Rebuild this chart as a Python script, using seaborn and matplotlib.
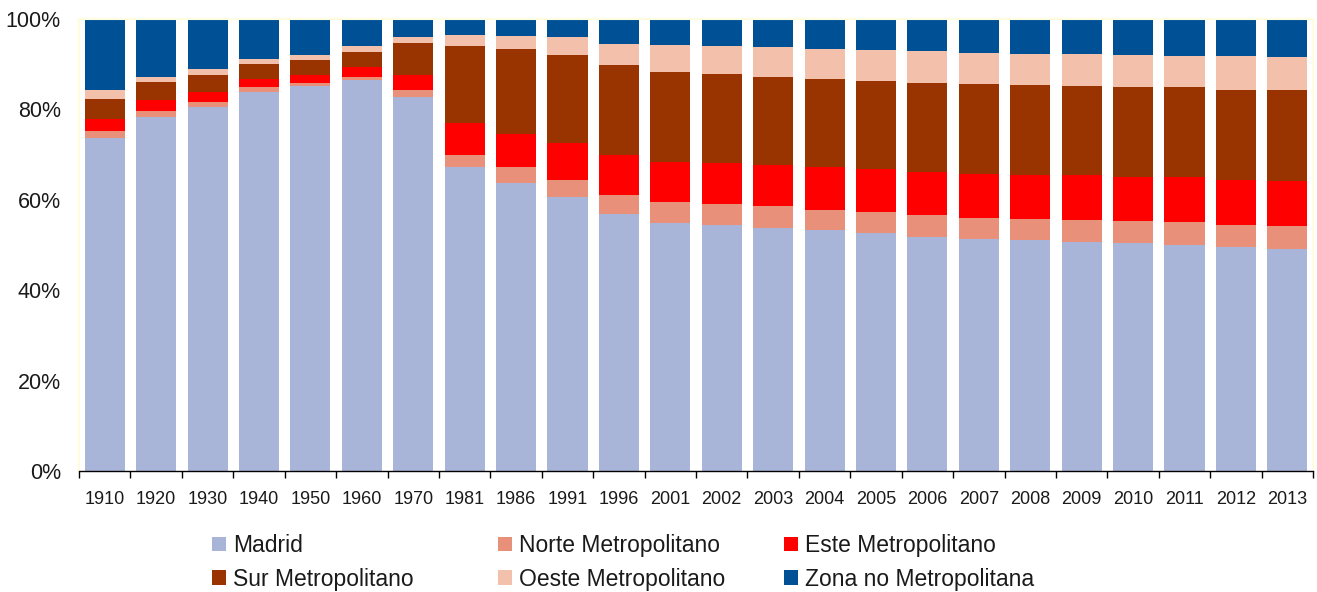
import numpy as np
import pandas as pd
import matplotlib
matplotlib.use('Agg')
import matplotlib.pyplot as plt
import seaborn as sns
from matplotlib.ticker import FixedLocator

# Data (% of population)
years = ['1910', '1920', '1930', '1940', '1950', '1960', '1970', '1981', '1986', '1991',
         '1996', '2001', '2002', '2003', '2004', '2005', '2006', '2007', '2008', '2009',
         '2010', '2011', '2012', '2013']
madrid = [73.7, 78.3, 80.5, 83.8, 85.2, 86.5, 82.7, 67.3, 63.7, 60.6, 56.9, 54.9,
          54.4, 53.8, 53.3, 52.7, 51.8, 51.3, 51.1, 50.7, 50.4, 50.0, 49.6, 49.1]
norte = [1.5, 1.3, 1.1, 1.2, 0.6, 0.7, 1.6, 2.6, 3.6, 3.8, 4.2, 4.6,
         4.7, 4.8, 4.4, 4.6, 4.8, 4.7, 4.7, 4.8, 4.9, 5.1, 4.8, 5.1]
este = [2.7, 2.5, 2.2, 1.7, 1.7, 2.2, 3.2, 7.1, 7.3, 8.2, 8.8, 8.9,
        9.0, 9.1, 9.6, 9.5, 9.6, 9.8, 9.7, 10.0, 9.7, 9.8, 10.0, 10.0]
sur = [4.4, 4.0, 3.8, 3.3, 3.4, 3.3, 7.2, 17.0, 18.8, 19.4, 19.9, 19.9,
       19.7, 19.5, 19.4, 19.5, 19.6, 19.8, 19.9, 19.7, 20.0, 19.8, 19.9, 20.1]
oeste = [2.0, 1.1, 1.3, 1.2, 1.1, 1.3, 1.3, 2.5, 2.8, 4.0, 4.7, 5.9,
         6.2, 6.6, 6.7, 6.8, 7.1, 6.9, 6.9, 7.1, 7.0, 6.9, 7.5, 7.3]
zona = [15.7, 12.8, 11.1, 8.8, 8.0, 6.0, 4.0, 3.5, 3.8, 4.0, 5.5, 5.8,
        6.0, 6.2, 6.6, 6.9, 7.1, 7.5, 7.7, 7.7, 8.0, 8.2, 8.2, 8.4]

series = ['Madrid', 'Norte Metropolitano', 'Este Metropolitano',
          'Sur Metropolitano', 'Oeste Metropolitano', 'Zona no Metropolitana']
colors = ['#A8B4D8', '#E8907A', '#FF0000', '#993300', '#F2C0AB', '#005096']

df = pd.DataFrame({'year': years, series[0]: madrid, series[1]: norte, series[2]: este,
                   series[3]: sur, series[4]: oeste, series[5]: zona})
# normalise each year to 100% and build cumulative tops for stacking
vals = df[series]
vals = vals.div(vals.sum(axis=1), axis=0) * 100
cum = vals.cumsum(axis=1)
cum['year'] = df['year']

sns.set_style('white')
plt.rcParams['font.family'] = ['Liberation Sans', 'DejaVu Sans']

fig = plt.figure(figsize=(13.17, 5.92), dpi=100)
ax = fig.add_axes([0.060, 0.204, 0.937, 0.764])

# draw from the top layer down so each stack shows
handles = {}
for name, col in reversed(list(zip(series, colors))):
    sns.barplot(data=cum, x='year', y=name, color=col, saturation=1, width=0.78,
                ax=ax, errorbar=None, order=years, linewidth=0, edgecolor='none')
    handles[name] = ax.patches[-1]

ax.set_xlim(-0.5, len(years) - 0.5)
ax.set_ylim(0, 100)
ax.set_xlabel('')
ax.set_ylabel('')
ax.set_yticks([0, 20, 40, 60, 80, 100])
ax.set_yticklabels([f'{v}%' for v in [0, 20, 40, 60, 80, 100]], fontsize=15.5, color='#1a1a1a')
ax.tick_params(axis='y', length=0, pad=13)
ax.tick_params(axis='x', which='major', length=0, pad=14, labelsize=13, labelcolor='#1a1a1a')
ax.xaxis.set_minor_locator(FixedLocator(np.arange(-0.5, len(years), 1)))
ax.tick_params(axis='x', which='minor', length=5, width=1, color='black', direction='out',
               bottom=True)

for s in ['left', 'top', 'right']:
    ax.spines[s].set_color('#FFFDE0')
    ax.spines[s].set_linewidth(1.5)
ax.spines['bottom'].set_color('black')
ax.spines['bottom'].set_linewidth(1)
ax.spines['bottom'].set_zorder(5)

# legend: three columns, two rows, laid out like the original
cols = [[series[0], series[3]], [series[1], series[4]], [series[2], series[5]]]
xs = [212 / 1317, 498 / 1317, 784 / 1317]
for names, x in zip(cols, xs):
    leg = fig.legend([handles[n] for n in names], names, loc='upper left',
                     bbox_to_anchor=(x, 1 - 534 / 592), frameon=False, fontsize=16.5,
                     handlelength=0.62, handleheight=0.62, handletextpad=0.3,
                     labelspacing=0.47, borderpad=0, borderaxespad=0)
    for t in leg.get_texts():
        t.set_color('#1a1a1a')

fig.savefig('out.png', dpi=100)
